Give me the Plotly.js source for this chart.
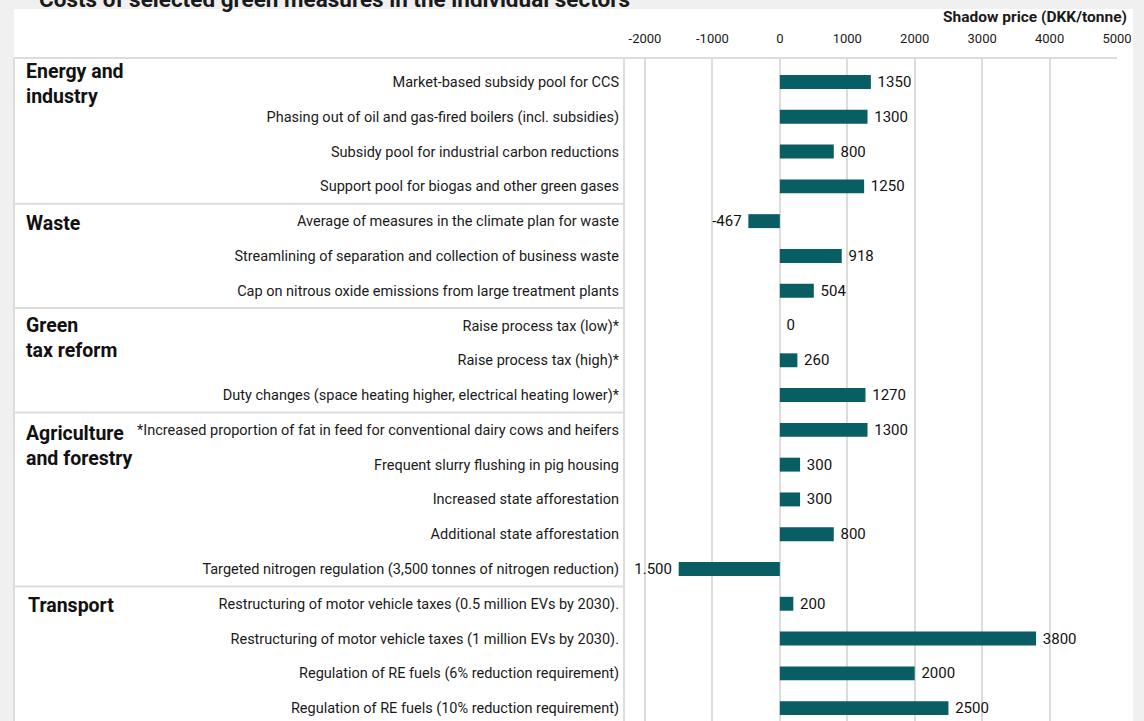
<!DOCTYPE html>
<html>
<head>
<meta charset="utf-8">
<script src="https://cdn.plot.ly/plotly-3.0.1.min.js"></script>
<style>
  html, body { margin: 0; padding: 0; background: #f0f0f0; }
  #chart { width: 1144px; height: 721px; }
</style>
</head>
<body>
<div id="chart"></div>
<script>
// measures, top to bottom
const measures = [
  "Market-based subsidy pool for CCS",
  "Phasing out of oil and gas-fired boilers (incl. subsidies)",
  "Subsidy pool for industrial carbon reductions",
  "Support pool for biogas and other green gases",
  "Average of measures in the climate plan for waste",
  "Streamlining of separation and collection of business waste",
  "Cap on nitrous oxide emissions from large treatment plants",
  "Raise process tax (low)*",
  "Raise process tax (high)*",
  "Duty changes (space heating higher, electrical heating lower)*",
  "*Increased proportion of fat in feed for conventional dairy cows and heifers",
  "Frequent slurry flushing in pig housing",
  "Increased state afforestation",
  "Additional state afforestation",
  "Targeted nitrogen regulation (3,500 tonnes of nitrogen reduction)",
  "Restructuring of motor vehicle taxes (0.5 million EVs by 2030).",
  "Restructuring of motor vehicle taxes (1 million EVs by 2030).",
  "Regulation of RE fuels (6% reduction requirement)",
  "Regulation of RE fuels (10% reduction requirement)"
];
const shadowPrice = [1350, 1300, 800, 1250, -467, 918, 504, 0, 260, 1270,
                     1300, 300, 300, 800, -1500, 200, 3800, 2000, 2500];
const valueLabels = ["1350", "1300", "800", "1250", "-467", "918", "504", "0", "260", "1270",
                     "1300", "300", "300", "800", "1.500", "200", "3800", "2000", "2500"];

// sectors: name and index of first measure
const sectors = ["Energy and<br>industry", "Waste", "Green<br>tax reform", "Agriculture<br>and forestry", "Transport"];
const sectorStart = [0, 4, 7, 10, 15];

const xTicks = [-2000, -1000, 0, 1000, 2000, 3000, 4000, 5000];

// pixel helpers for the frame
const W = 1144, H = 721;
const L = 624, R = 1117, T = 58, B = 721;
const px = x => (x - L) / (R - L);
const py = y => (B - y) / (B - T);

const idx = measures.map((m, i) => i);
const gridCol = '#dcdcdc';
const nb = '\u00a0';
const sectorShift = [24, 11, 14, 10, 12];

const shapes = [
  // white panel
  {type: 'rect', xref: 'paper', yref: 'paper', x0: px(14), x1: px(1133), y0: py(721), y1: py(9),
   fillcolor: 'white', line: {width: 0}, layer: 'below'},
  // top border of table
  {type: 'line', xref: 'paper', yref: 'paper', x0: px(14), x1: 1, y0: 1, y1: 1,
   line: {color: gridCol, width: 2}},
  // left border
  {type: 'line', xref: 'paper', yref: 'paper', x0: px(14), x1: px(14), y0: 0, y1: 1,
   line: {color: gridCol, width: 2}},
  // label column separator
  {type: 'line', xref: 'paper', yref: 'paper', x0: 0, x1: 0, y0: 0, y1: 1,
   line: {color: gridCol, width: 2}}
];
sectorStart.slice(1).forEach(s => {
  shapes.push({type: 'line', xref: 'paper', yref: 'y', x0: px(14), x1: 0, y0: s - 0.5, y1: s - 0.5,
               line: {color: gridCol, width: 2}});
});

const annotations = [
  {text: '<b>Costs of selected green measures in the individual sectors</b>', xref: 'paper', yref: 'paper',
   x: px(37), y: py(-1), xanchor: 'left', yanchor: 'middle', showarrow: false,
   font: {size: 22.5, color: '#1a1a1a'}},
  {text: '<b>Shadow price (DKK/tonne)</b>', xref: 'paper', yref: 'paper',
   x: px(1129), y: py(17), xanchor: 'right', yanchor: 'middle', showarrow: false,
   font: {size: 15.5, color: '#1a1a1a'}}
];
sectors.forEach((s, i) => {
  annotations.push({text: '<b>' + s + '</b>', xref: 'paper', yref: 'y',
    x: px(i === 4 ? 26 : 24), y: sectorStart[i], xanchor: 'left', yanchor: 'top', align: 'left',
    yshift: sectorShift[i], showarrow: false, font: {size: 19.5, color: '#111'}});
});

const data = [{
  type: 'bar',
  orientation: 'h',
  x: shadowPrice,
  y: idx,
  text: valueLabels.map((t, i) => shadowPrice[i] < 0 ? t + nb : nb + t),
  textposition: 'outside',
  constraintext: 'none',
  cliponaxis: false,
  textfont: {size: 15, color: '#111'},
  marker: {color: '#085e63'},
  hoverinfo: 'none'
}];

const layout = {
  width: W,
  height: H,
  margin: {l: L, r: W - R, t: T, b: H - B},
  paper_bgcolor: '#f0f0f0',
  plot_bgcolor: 'rgba(0,0,0,0)',
  font: {family: 'Roboto, Arial, sans-serif', color: '#1a1a1a'},
  showlegend: false,
  bargap: 0.6,
  xaxis: {
    side: 'top',
    range: [-2311, 5000],
    tickvals: xTicks,
    ticktext: xTicks.map(String),
    tickfont: {size: 13, color: '#1a1a1a'},
    ticks: '',
    ticklabelstandoff: 11,
    showgrid: true,
    gridcolor: gridCol,
    gridwidth: 2,
    zeroline: false,
    showline: false
  },
  yaxis: {
    range: [18.37, -0.69],
    tickvals: idx,
    ticktext: measures,
    tickfont: {size: 14.5, color: '#1a1a1a'},
    ticks: '',
    ticklabelstandoff: 4,
    showgrid: false,
    zeroline: false
  },
  shapes: shapes,
  annotations: annotations
};

Plotly.newPlot('chart', data, layout, {displayModeBar: false});
</script>
</body>
</html>
